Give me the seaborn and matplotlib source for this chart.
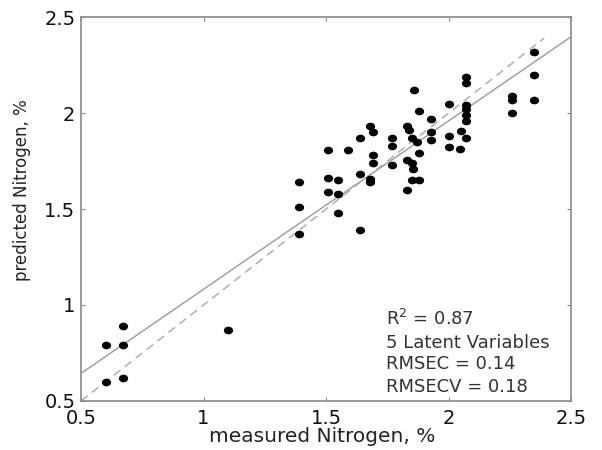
import numpy as np
import pandas as pd
import matplotlib
matplotlib.use("Agg")
import matplotlib.pyplot as plt
from matplotlib.path import Path
from matplotlib.transforms import Affine2D
import seaborn as sns

# measured vs predicted nitrogen (%)
measured = [0.60, 0.60, 0.67, 0.67, 0.67, 1.10,
            1.39, 1.39, 1.39,
            1.51, 1.51, 1.51,
            1.55, 1.55, 1.55, 1.59,
            1.64, 1.64, 1.64,
            1.68, 1.69, 1.69, 1.69, 1.68, 1.68,
            1.77, 1.77, 1.77,
            1.83, 1.84, 1.85, 1.87, 1.83, 1.85, 1.855, 1.85, 1.88, 1.83, 1.88,
            1.86, 1.88,
            1.93, 1.93, 1.93,
            2.00, 2.00, 2.00,
            2.05, 2.07, 2.045,
            2.07, 2.07, 2.07, 2.07, 2.07, 2.07,
            2.26, 2.26, 2.26,
            2.35, 2.35, 2.35]
predicted = [0.79, 0.60, 0.89, 0.79, 0.62, 0.87,
             1.64, 1.51, 1.37,
             1.81, 1.66, 1.59,
             1.65, 1.58, 1.48, 1.81,
             1.87, 1.68, 1.39,
             1.93, 1.90, 1.78, 1.74, 1.655, 1.64,
             1.87, 1.83, 1.73,
             1.93, 1.91, 1.87, 1.85, 1.755, 1.74, 1.71, 1.65, 1.65, 1.60, 1.79,
             2.12, 2.01,
             1.97, 1.90, 1.86,
             2.045, 1.88, 1.825,
             1.905, 1.87, 1.815,
             2.19, 2.155, 2.04, 2.02, 1.99, 1.96,
             2.09, 2.07, 2.00,
             2.32, 2.20, 2.07]

# regression fit line and 1:1 reference line
fit_intercept = 0.205
fit_slope = 0.877
ref_x = [0.5, 2.39]

stats_lines = ["R$^2$ = 0.87", "5 Latent Variables", "RMSEC = 0.14", "RMSECV = 0.18"]
ticks = [0.5, 1, 1.5, 2, 2.5]

df = pd.DataFrame({"measured": measured, "predicted": predicted})

sns.set_style("white")
plt.rcParams["font.family"] = ["DejaVu Sans"]
plt.rcParams["mathtext.fontset"] = "dejavusans"

fig = plt.figure(figsize=(6.02, 4.5), dpi=100)
ax = fig.add_axes([0.1346, 0.109, 0.814, 0.853])

ax.axline((0, fit_intercept), slope=fit_slope, color="#9a9a9a", lw=1.0, zorder=1)
ax.plot(ref_x, ref_x, color="#a8a8a8", lw=1.0, ls=(0, (6, 4)), zorder=1)

# dots in the source look a bit wider than tall
dot = Path.unit_circle().transformed(Affine2D().scale(1.2, 1.0))
sns.scatterplot(data=df, x="measured", y="predicted", ax=ax, color="black",
                marker=dot, s=44, linewidth=0, zorder=3)

ax.set_xlim(0.5, 2.5)
ax.set_ylim(0.5, 2.5)
ax.set_xticks(ticks)
ax.set_yticks(ticks)
ax.set_xticklabels([f"{t:g}" for t in ticks])
ax.set_yticklabels([f"{t:g}" for t in ticks])
ax.tick_params(direction="in", length=3, width=0.8, color="#888888",
               labelsize=14, labelcolor="#111111", top=True, right=True,
               bottom=True, left=True)
ax.tick_params(axis="x", pad=6)
ax.tick_params(axis="y", pad=4)
for sp in ax.spines.values():
  sp.set_visible(True)
  sp.set_color("#8a8a8a")
  sp.set_linewidth(1.2)

ax.set_xlabel("measured Nitrogen, %", fontsize=14.5, color="#222222")
ax.set_ylabel("predicted Nitrogen, %", fontsize=12, color="#222222")
ax.xaxis.set_label_coords(0.492, -0.068)
ax.yaxis.set_label_coords(-0.102, 0.549)

ys = [0.896, 0.778, 0.665, 0.548]
for txt, yy in zip(stats_lines, ys):
  ax.text(1.745, yy, txt, fontsize=13, color="#333333", va="baseline", ha="left")

fig.savefig("out.png", dpi=100)
